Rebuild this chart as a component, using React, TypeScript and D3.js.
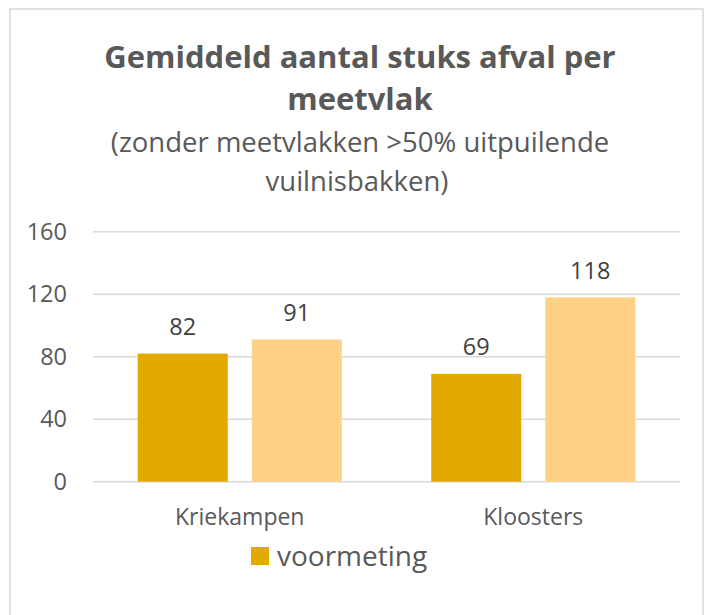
import React from 'react';
import * as d3 from 'd3';

const categories = ['Kriekampen', 'Kloosters'];
const seriesNames = ['voormeting', 'nameting'];
const voormeting = [82, 69];
const nameting = [91, 118];
const yTicks = [0, 40, 80, 120, 160];
const legendNames = ['voormeting'];

const colors = ['#E2AA00', '#FFD186'];
const textColor = '#595959';
const gridColor = '#D9D9D9';
const font = "'Open Sans', sans-serif";

const App: React.FC = () => {
    const width = 709;
    const height = 615;
    const plot = { left: 93, right: 680, top: 231.7, bottom: 481.7 };

    const x0 = d3.scaleBand<string>()
        .domain(categories)
        .range([plot.left, plot.right])
        .paddingInner(0)
        .paddingOuter(0);

    // bars are 90 wide with a 24 gap inside each 293 wide group
    const x1 = d3.scaleBand<string>()
        .domain(seriesNames)
        .range([44.7, x0.bandwidth() - 44.7])
        .paddingInner(24 / 114);

    const y = d3.scaleLinear()
        .domain([0, 160])
        .range([plot.bottom, plot.top]);

    const values = [voormeting, nameting];

    return (
        <svg width={width} height={height} style={{ position: 'absolute', left: 0, top: 0, background: '#fff' }}>
            <rect x={10} y={9} width={693} height={620} fill="#fff" stroke={gridColor} strokeWidth={1.5} />

            <text x={360} y={68} textAnchor="middle" fontFamily={font} fontWeight="bold" fontSize={31} fill={textColor}>
                Gemiddeld aantal stuks afval per
            </text>
            <text x={360} y={110} textAnchor="middle" fontFamily={font} fontWeight="bold" fontSize={31} fill={textColor}>
                meetvlak
            </text>
            <text x={360} y={152} textAnchor="middle" fontFamily={font} fontSize={27.5} fill={textColor}>
                (zonder meetvlakken &gt;50% uitpuilende
            </text>
            <text x={357} y={191} textAnchor="middle" fontFamily={font} fontSize={27.5} fill={textColor}>
                vuilnisbakken)
            </text>

            {yTicks.map(t => (
                <g key={t}>
                    <line x1={plot.left} x2={plot.right} y1={y(t)} y2={y(t)} stroke={gridColor} strokeWidth={1.5} />
                    <text x={67} y={y(t)} dy="0.35em" textAnchor="end" fontFamily={font} fontSize={23.5} fill={textColor}>
                        {t}
                    </text>
                </g>
            ))}

            {categories.map((c, i) => (
                <g key={c} transform={`translate(${x0(c)},0)`}>
                    {seriesNames.map((s, j) => {
                        const v = values[j][i];
                        const bx = x1(s) as number;
                        return (
                            <g key={s}>
                                <rect x={bx} y={y(v)} width={x1.bandwidth()} height={y(0) - y(v)} fill={colors[j]} />
                                <text x={bx + x1.bandwidth() / 2} y={y(v) - 27} dy="0.35em" textAnchor="middle"
                                    fontFamily={font} fontSize={23.5} fill="#404040">
                                    {v}
                                </text>
                            </g>
                        );
                    })}
                    <text x={x0.bandwidth() / 2} y={517} dy="0.35em" textAnchor="middle" fontFamily={font} fontSize={23} fill={textColor}>
                        {c}
                    </text>
                </g>
            ))}

            {legendNames.map((n, i) => (
                <g key={n}>
                    <rect x={251} y={547} width={18} height={18} fill={colors[i]} />
                    <text x={277} y={556} dy="0.35em" fontFamily={font} fontSize={28} fill={textColor}>
                        {n}
                    </text>
                </g>
            ))}
        </svg>
    );
};

export default App;
